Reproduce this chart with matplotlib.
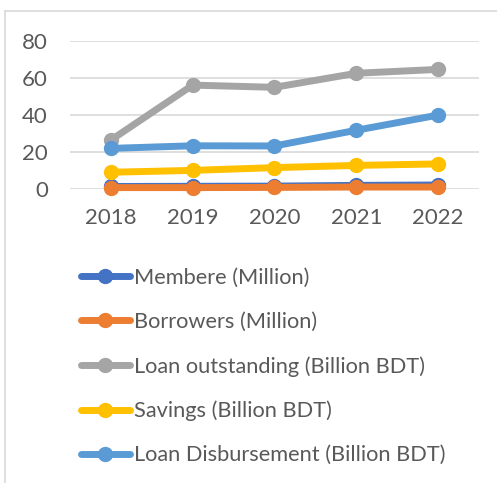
import matplotlib.pyplot as plt
from matplotlib.lines import Line2D

years = ["2018", "2019", "2020", "2021", "2022"]

members = [1.2, 1.3, 1.4, 1.8, 2.0]
borrowers = [0.6, 0.6, 0.7, 0.9, 0.9]
loan_outstanding = [26.3, 56.0, 54.8, 62.4, 64.5]
savings = [8.9, 9.9, 11.4, 12.6, 13.4]
loan_disbursement = [21.8, 23.2, 23.1, 31.6, 39.8]

series_names = [
    "Membere (Million)",
    "Borrowers (Million)",
    "Loan outstanding (Billion BDT)",
    "Savings (Billion BDT)",
    "Loan Disbursement (Billion BDT)",
]
series_colors = ["#4472C4", "#ED7D31", "#A5A5A5", "#FFC000", "#5B9BD5"]

TEXT_COLOR = "#595959"
GRID_COLOR = "#D9D9D9"

plt.rcParams["font.family"] = ["Lato", "DejaVu Sans"]

fig = plt.figure(figsize=(4.97, 4.83), dpi=100)
ax = fig.add_axes([0.1408, 0.6093, 0.823, 0.3064])

positions = range(len(years))
all_series = [members, borrowers, loan_outstanding, savings, loan_disbursement]
for values, name, color in zip(all_series, series_names, series_colors):
    ax.plot(
        positions,
        values,
        color=color,
        linewidth=5,
        marker="o",
        markersize=10,
        label=name,
        clip_on=False,
        solid_capstyle="round",
    )

ax.set_xlim(-0.5, len(years) - 0.5)
ax.set_ylim(0, 80)
ax.set_yticks([0, 20, 40, 60, 80])
ax.set_xticks(list(positions))
ax.set_xticklabels(years)
ax.yaxis.grid(True, color=GRID_COLOR, linewidth=1.2)
ax.set_axisbelow(True)
for spine in ax.spines.values():
    spine.set_visible(False)
ax.tick_params(length=0, labelsize=16, colors=TEXT_COLOR)
ax.tick_params(axis="y", pad=16)
ax.tick_params(axis="x", pad=14)

handles, labels = ax.get_legend_handles_labels()
fig.legend(
    handles,
    labels,
    loc="upper left",
    bbox_to_anchor=(0.145, 0.463),
    frameon=False,
    fontsize=15.7,
    labelcolor=TEXT_COLOR,
    handlelength=2.25,
    handletextpad=0.2,
    labelspacing=1.1,
    borderaxespad=0,
)

# outer chart frame (only the top and left edges fall inside the figure)
fig.add_artist(Line2D([5 / 497, 5 / 497], [0, 1 - 11 / 483],
                      transform=fig.transFigure, color=GRID_COLOR, linewidth=1.2))
fig.add_artist(Line2D([5 / 497, 1], [1 - 11 / 483, 1 - 11 / 483],
                      transform=fig.transFigure, color=GRID_COLOR, linewidth=1.2))

fig.savefig("out.png", dpi=100)
